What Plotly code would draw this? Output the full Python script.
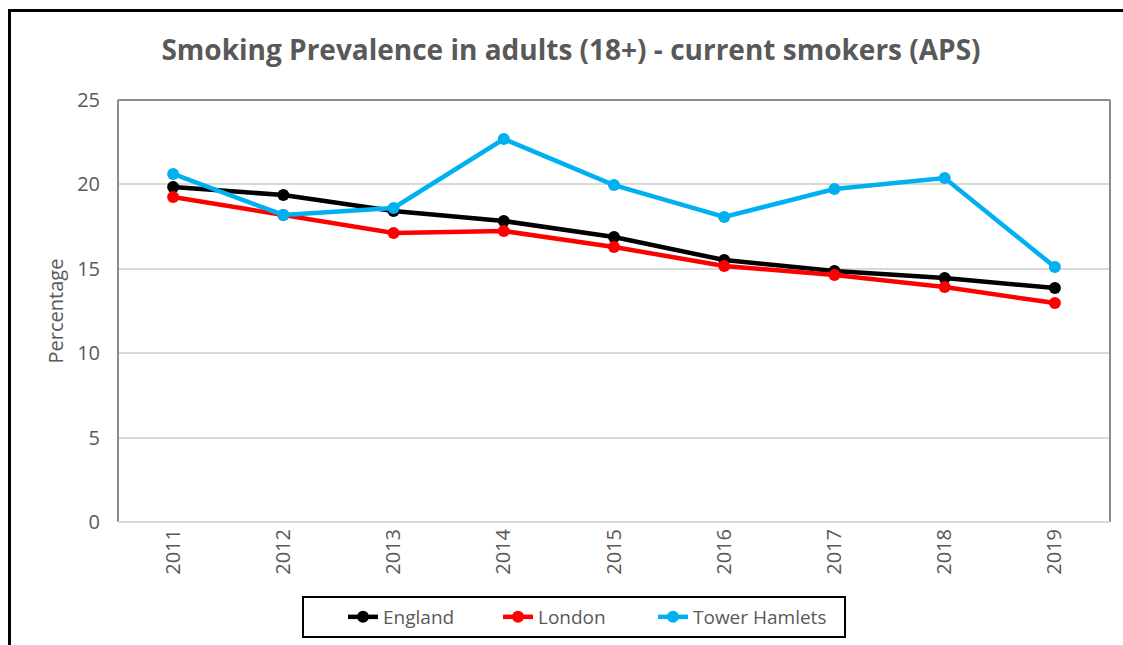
import plotly.graph_objects as go

years = ["2011", "2012", "2013", "2014", "2015", "2016", "2017", "2018", "2019"]
england = [19.85, 19.37, 18.42, 17.83, 16.88, 15.52, 14.87, 14.45, 13.86]
london = [19.25, 18.19, 17.12, 17.24, 16.29, 15.17, 14.63, 13.92, 12.97]
tower_hamlets = [20.62, 18.19, 18.6, 22.69, 19.96, 18.07, 19.73, 20.38, 15.1]

series = [("England", england, "#000000"),
          ("London", london, "#FF0000"),
          ("Tower Hamlets", tower_hamlets, "#00B0F0")]

W, H = 1123, 645
L, R, T, B = 118, 13, 100, 123
pw, ph = W - L - R, H - T - B

fig = go.Figure()
for name, vals, col in series:
    fig.add_trace(go.Scatter(x=years, y=vals, name=name, mode="lines+markers",
                             line=dict(color=col, width=4.5),
                             marker=dict(color=col, size=12)))
# invisible spacer entry so the last legend label is not clipped
fig.add_trace(go.Scatter(x=[None], y=[None], name=" ", mode="lines",
                         line=dict(color="rgba(0,0,0,0)"), hoverinfo="skip"))

font = "Open Sans, Liberation Sans, sans-serif"
grey = "#595959"

def px(x):
    return (x - L) / pw

def py(y):
    return (H - B - y) / ph

fig.update_layout(
    width=W, height=H,
    margin=dict(l=L, r=R, t=T, b=B, autoexpand=False),
    paper_bgcolor="white", plot_bgcolor="white",
    title=dict(text="<b>Smoking Prevalence in adults (18+) - current smokers (APS)</b>",
               x=571 / W, xanchor="center", y=1 - 50 / H, yanchor="middle",
               font=dict(family=font, size=28, color=grey)),
    xaxis=dict(type="category", range=[-0.5, 8.5], tickangle=-90,
               tickfont=dict(family=font, size=20, color=grey),
               showgrid=False, showline=False, zeroline=False,
               ticklabelstandoff=2),
    yaxis=dict(range=[0, 25], tickvals=[0, 5, 10, 15, 20, 25],
               tickfont=dict(family=font, size=20, color=grey),
               showgrid=True, gridcolor="#D9D9D9", gridwidth=2,
               zeroline=False, showline=False,
               ticklabelstandoff=17,
               title=dict(text="Percentage", font=dict(family=font, size=20, color=grey),
                          standoff=8)),
    legend=dict(orientation="h", x=px(343), xanchor="left",
                y=py(598), yanchor="top",
                borderwidth=0, bgcolor="rgba(0,0,0,0)",
                font=dict(family=font, size=19, color=grey),
                entrywidth=110, entrywidthmode="pixels"),
    showlegend=True,
)

# plot area border (left, top, right grey; bottom light grey)
fig.add_shape(type="line", xref="paper", yref="paper", x0=0, x1=0, y0=0, y1=1,
              line=dict(color="#8C8C8C", width=2))
fig.add_shape(type="line", xref="paper", yref="paper", x0=0, x1=1, y0=1, y1=1,
              line=dict(color="#8C8C8C", width=2))
fig.add_shape(type="line", xref="paper", yref="paper", x0=1, x1=1, y0=0, y1=1,
              line=dict(color="#8C8C8C", width=2))
fig.add_shape(type="line", xref="paper", yref="paper", x0=0, x1=1, y0=0, y1=0,
              line=dict(color="#D9D9D9", width=2))

# legend box
fig.add_shape(type="rect", xref="paper", yref="paper", x0=px(303), x1=px(845),
              y0=py(637), y1=py(597), line=dict(color="black", width=2))

# outer chart frame (left and top visible)
fig.add_shape(type="line", xref="paper", yref="paper", x0=px(9.5), x1=px(9.5),
              y0=py(10), y1=py(H + 5), line=dict(color="black", width=3))
fig.add_shape(type="line", xref="paper", yref="paper", x0=px(8), x1=px(W + 5),
              y0=py(10.5), y1=py(10.5), line=dict(color="black", width=3))

fig.write_html("out.html")
